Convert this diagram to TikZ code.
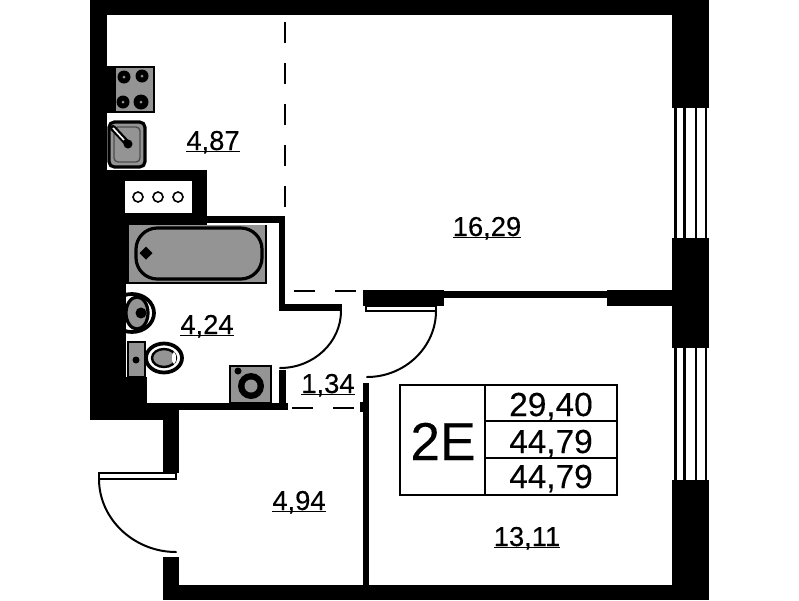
\documentclass[tikz,border=0pt]{standalone}
\usepackage{fontspec}
\setmainfont{Liberation Sans}
\newfontfamily\heavyfont[FakeBold=0.25]{Liberation Sans}
\newcommand{\areatxt}[1]{\setbox0\hbox{#1}\rlap{\rule[-1.6pt]{\wd0}{1.2pt}}\box0}
\definecolor{fixt}{gray}{0.58}
\tikzset{
  wall/.style={fill=black,draw=none},
  fixture/.style={fill=fixt,draw=black,line width=1.8pt},
  thick line/.style={draw=black,line width=1.5pt,line cap=round},
  leaf/.style={fill=white,draw=black,line width=1.2pt},
  zone/.style={draw=black,line width=1pt,dash pattern=on 15.75pt off 15pt},
  area/.style={anchor=base,inner sep=0pt,font=\heavyfont\fontsize{20.5pt}{24pt}\selectfont},
  tablenum/.style={anchor=base,inner sep=0pt,font=\heavyfont\fontsize{25pt}{30pt}\selectfont},
  tablegrid/.style={draw=black,line width=1.3pt},
  x=0.75pt,y=-0.75pt
}
\begin{document}
\begin{tikzpicture}
\useasboundingbox (0,0) rectangle (799,600);
\fill[white] (0,0) rectangle (799,600);

% kitchen fixtures
\fill[black] (107,66) rectangle (116,113);
\draw[fixture,line width=1.2pt] (115,67) rectangle (154,112);
\foreach \cx/\cy/\r in {124/77/6.5,142/76/6.5,123/102/6.5,141/102/7.5}{
  \fill (\cx,\cy) circle[radius=\r];
  \fill[fixt] (\cx,\cy) circle[radius=1.5];
}
\draw[fill=fixt,draw=black,line width=2.4pt,rounded corners=4pt] (109,122) rectangle (145,167);
\draw[draw=black!70,line width=1pt,rounded corners=3pt] (114,127) rectangle (140,162);
\draw[black,line width=4.5pt,line cap=round] (113,128) -- (128,144);
\draw[white,line width=1.2pt] (113,128) -- (124,140);
\fill (128,144) circle[radius=4.5];

% bathtub
\fill[fixt] (129,225) rectangle (265,283);
\draw[black,line width=1.5pt] (129,283) -- (266,283) -- (266,225);
\draw[fill=fixt,draw=black,line width=2.4pt,rounded corners=16pt] (136,228) rectangle (262,279);
\fill (146,246.5) -- (152.5,253) -- (146,259.5) -- (139.5,253) -- cycle;

% basin
\draw[fill=white,draw=black,line width=2.8pt] (132,313) ellipse[x radius=22,y radius=19];
\draw[fill=fixt,draw=black,line width=2.4pt] (137,313) ellipse[x radius=11,y radius=16];
\fill (141,313) circle[radius=5.5];

% toilet
\draw[fill=white,draw=black,line width=2.8pt] (164,358) ellipse[x radius=18,y radius=14.5];
\draw[fill=fixt,draw=black,line width=1.8pt] (164,358) ellipse[x radius=12,y radius=9];
\fill[white] (174,358) ellipse[x radius=2,y radius=6];
\draw[fixture,line width=1.6pt] (128,342) rectangle (145,377);
\fill (136,360) circle[radius=3.5];

% washing machine
\draw[fixture,line width=2.2pt] (230,366) rectangle (271,403);
\fill (251,386) circle[radius=13];
\fill[fixt] (251,386) circle[radius=6.5];
\fill (238,371) circle[radius=3.5];

% walls
\fill[wall] (90,0) rectangle (709,15);
\fill[wall] (672,0) rectangle (709,108);
\fill[wall] (672,238) rectangle (709,348);
\fill[wall] (672,480) rectangle (709,600);
\fill[wall] (163,585) rectangle (709,600);
\fill[wall] (90,0) rectangle (107,170);
\fill[wall] (90,170) rectangle (126,420);
\fill[wall] (90,216) rectangle (129,284);
\fill[wall] (90,377) rectangle (147,420);
\fill[wall] (90,403) rectangle (163,420);
\fill[wall] (147,403) rectangle (288,410);
\fill[wall] (163,403) rectangle (179,473);
\fill[wall] (163,557) rectangle (179,600);
\fill[wall] (90,170) rectangle (207,216);
\fill[wall] (207,216) rectangle (285,223);
\fill[wall] (126,216) rectangle (207,225);
\fill[wall] (279,216) rectangle (285,311);
\fill[wall] (279,304) rectangle (342,311);
\fill[wall] (279,370) rectangle (286,410);
\fill[wall] (363,290) rectangle (444,306);
\fill[wall] (444,291) rectangle (607,298);
\fill[wall] (607,290) rectangle (672,306);
\fill[wall] (363,383) rectangle (369,585);
\fill[wall] (360,402) rectangle (369,412);
\fill[white] (125,181) rectangle (192,213);
\foreach \cx in {138,158,178}{
  \draw[black,line width=1.2pt] (\cx,197) circle[radius=5];
}

% windows
\foreach \wy/\wz in {108/238,348/480}{
  \fill[black] (674,\wy) rectangle (676.5,\wz);
  \fill[black] (683,\wy) rectangle (686,\wz);
  \fill[black] (695,\wy) rectangle (697,\wz);
  \fill[black] (705,\wy) rectangle (707,\wz);
}

% zone dashes
\draw[zone] (285,22) -- (285,216);
\draw[zone] (294,291) -- (360,291);
\draw[zone] (292,408) -- (360,408);

% doors
\draw[leaf] (366,306) rectangle (436,311);
\draw[leaf] (99,473) rectangle (176,479);
\draw[thick line] (341,311) .. controls (341,342) and (314,368) .. (280,368);
\draw[thick line] (436,311) .. controls (436,347) and (405,377) .. (367,377);
\draw[thick line] (99,479) .. controls (99,519) and (134,552) .. (176,552);

% table
\draw[tablegrid] (400,385) rectangle (617,495);
\draw[tablegrid] (485,385) -- (485,495);
\draw[tablegrid] (485,421) -- (617,421);
\draw[tablegrid] (485,458) -- (617,458);
\node[anchor=base,inner sep=0pt,font=\heavyfont\fontsize{40pt}{46pt}\selectfont] (apt) at (443,460) {2E};
\node[tablenum] (living) at (551,416) {29,40};
\node[tablenum] (total) at (551,453) {44,79};
\node[tablenum] (gross) at (551,488) {44,79};

% areas
\node[area] (kitchen) at (213,150) {\areatxt{4,87}};
\node[area] (room) at (487,236) {\areatxt{16,29}};
\node[area] (bath) at (207,334) {\areatxt{4,24}};
\node[area] (hall) at (328,393) {\areatxt{1,34}};
\node[area] (entry) at (299,510) {\areatxt{4,94}};
\node[area] (bed) at (527,546) {\areatxt{13,11}};
\end{tikzpicture}
\end{document}
